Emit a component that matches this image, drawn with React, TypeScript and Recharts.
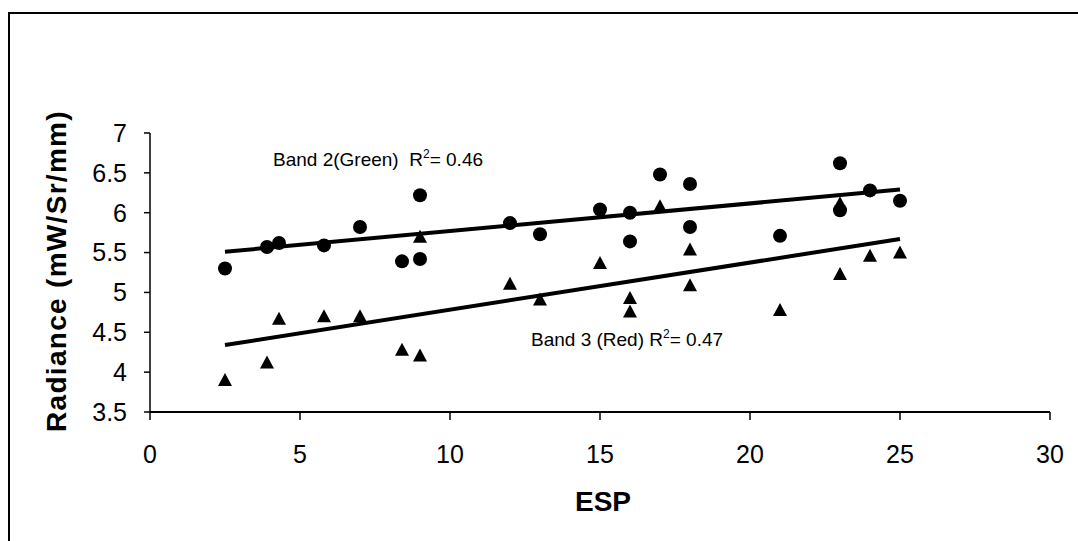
import { ScatterChart, Scatter, XAxis, YAxis } from "recharts";

// ESP values and radiance readings
const espValues = [2.5, 3.9, 4.3, 5.8, 7, 8.4, 9, 9, 12, 13, 15, 16, 16, 17, 18, 18, 21, 23, 23, 24, 25];
const band2Green = [5.3, 5.57, 5.62, 5.59, 5.82, 5.39, 6.22, 5.42, 5.87, 5.73, 6.04, 6.0, 5.64, 6.48, 6.36, 5.82, 5.71, 6.62, 6.03, 6.28, 6.15];
const band3Red = [3.9, 4.12, 4.67, 4.7, 4.7, 4.28, 4.21, 5.7, 5.11, 4.91, 5.37, 4.93, 4.76, 6.08, 5.54, 5.09, 4.78, 6.12, 5.23, 5.46, 5.5];

// linear trend lines (end points)
const trendEsp = [2.5, 25];
const band2Trend = [5.51, 6.29];
const band3Trend = [4.34, 5.67];

const xTicks = [0, 5, 10, 15, 20, 25, 30];
const yTicks = [3.5, 4, 4.5, 5, 5.5, 6, 6.5, 7];

const FONT = '"Liberation Sans", Arial, sans-serif';

const toPoints = (xs: number[], ys: number[]) => xs.map((x, i) => ({ x, y: ys[i] }));

const band2Data = toPoints(espValues, band2Green);
const band3Data = toPoints(espValues, band3Red);
const band2Line = toPoints(trendEsp, band2Trend);
const band3Line = toPoints(trendEsp, band3Trend);

const Dot = (p: any) => <circle cx={p.cx} cy={p.cy} r={7} fill="#000" />;

const Tri = (p: any) => {
  const { cx, cy } = p;
  return (
    <polygon
      points={`${cx},${cy - 7} ${cx - 7},${cy + 6} ${cx + 7},${cy + 6}`}
      fill="#000"
    />
  );
};

const NoShape = () => null;

export default function App() {
  return (
    <div
      style={{
        position: "absolute",
        left: 0,
        top: 0,
        width: 1078,
        height: 541,
        background: "#fff",
        fontFamily: FONT,
      }}
    >
      <ScatterChart
        width={1078}
        height={541}
        margin={{ top: 133, right: 28, bottom: 99, left: 90 }}
      >
        <XAxis
          type="number"
          dataKey="x"
          domain={[0, 30]}
          ticks={xTicks}
          interval={0}
          height={30}
          axisLine={{ stroke: "#000", strokeWidth: 2 }}
          tickLine={{ stroke: "#000", strokeWidth: 1.5 }}
          tickSize={8}
          tickMargin={25}
          tick={{ fill: "#000", fontSize: 25, fontFamily: FONT }}
        />
        <YAxis
          type="number"
          dataKey="y"
          domain={[3.5, 7]}
          ticks={yTicks}
          interval={0}
          width={60}
          axisLine={{ stroke: "#000", strokeWidth: 1.5 }}
          tickLine={{ stroke: "#000", strokeWidth: 1.5 }}
          tickSize={6}
          tickMargin={17}
          tick={{ fill: "#000", fontSize: 25, fontFamily: FONT }}
        />
        <Scatter
          data={band2Line}
          line={{ stroke: "#000", strokeWidth: 4 }}
          shape={NoShape}
          isAnimationActive={false}
        />
        <Scatter
          data={band3Line}
          line={{ stroke: "#000", strokeWidth: 4 }}
          shape={NoShape}
          isAnimationActive={false}
        />
        <Scatter data={band2Data} shape={Dot} isAnimationActive={false} />
        <Scatter data={band3Data} shape={Tri} isAnimationActive={false} />
      </ScatterChart>

      <svg
        width={1078}
        height={541}
        style={{ position: "absolute", left: 0, top: 0, pointerEvents: "none" }}
        fontFamily={FONT}
      >
        <path d="M9,541 L9,13 L1078,13" stroke="#000" strokeWidth={2} fill="none" />
        <text
          transform="translate(66,271) rotate(-90)"
          textAnchor="middle"
          fontWeight="bold"
          fontSize={28}
          letterSpacing={1.3}
        >
          Radiance (mW/Sr/mm)
        </text>
        <text x={603} y={511} textAnchor="middle" fontWeight="bold" fontSize={28}>
          ESP
        </text>
        <text x={273} y={166} fontSize={19} style={{ whiteSpace: "pre" }}>
          {"Band 2(Green)  R"}
          <tspan dy={-8} fontSize={12}>2</tspan>
          <tspan dy={8}>{"= 0.46"}</tspan>
        </text>
        <text x={531} y={346} fontSize={19} style={{ whiteSpace: "pre" }}>
          {"Band 3 (Red) R"}
          <tspan dy={-8} fontSize={12}>2</tspan>
          <tspan dy={8}>{"= 0.47"}</tspan>
        </text>
      </svg>
    </div>
  );
}
